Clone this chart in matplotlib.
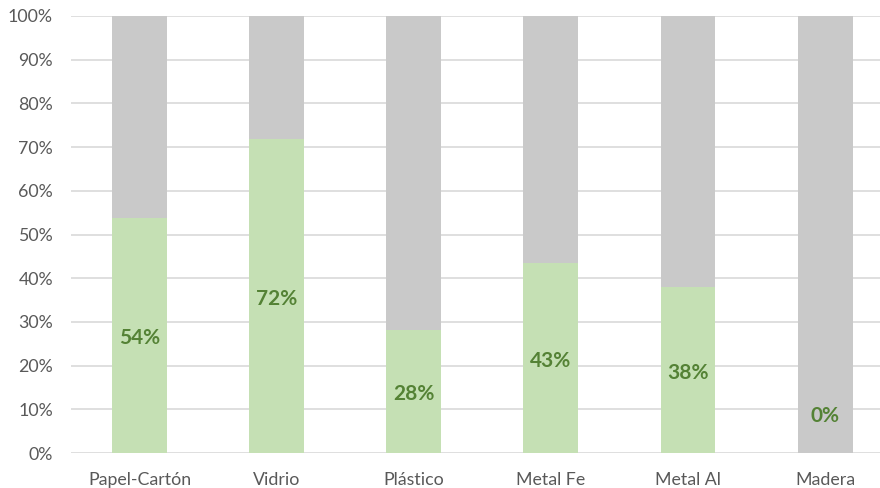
import numpy as np
import matplotlib.pyplot as plt

categories = ['Papel-Cartón', 'Vidrio', 'Plástico', 'Metal Fe', 'Metal Al', 'Madera']
recycled = [53.8, 71.8, 28.2, 43.4, 37.9, 0.0]
rest = [100 - v for v in recycled]

plt.rcParams['font.family'] = ['Lato', 'DejaVu Sans']

fig = plt.figure(figsize=(8.8, 4.88), dpi=100)
ax = fig.add_axes([71/880, 35/488, 809/880, 437/488])

x = np.arange(len(categories))
ax.bar(x, recycled, width=0.4, color='#c5e0b4', zorder=2)
ax.bar(x, rest, width=0.4, bottom=recycled, color='#c9c9c9', zorder=2)

for xi, v in zip(x, recycled):
    y = v / 2 - 0.6 if v > 17 else 8.5
    ax.text(xi, y, f'{v:.0f}%', ha='center', va='center', fontsize=15,
            fontweight='bold', color='#548235', zorder=3)

ax.set_xlim(-0.5, 5.4)
ax.set_ylim(0, 100)
ax.set_yticks(np.arange(0, 101, 10))
ax.set_yticklabels([f'{t}%' for t in range(0, 101, 10)])
ax.set_xticks(x)
ax.set_xticklabels(categories)
ax.tick_params(length=0, labelsize=12.8, colors='#595959')
ax.tick_params(axis='x', pad=14)
ax.tick_params(axis='y', pad=13)
ax.yaxis.grid(True, color='#d9d9d9', linewidth=1.2, zorder=0)
for s in ax.spines.values():
    s.set_visible(False)

fig.savefig('out.png', dpi=100)
